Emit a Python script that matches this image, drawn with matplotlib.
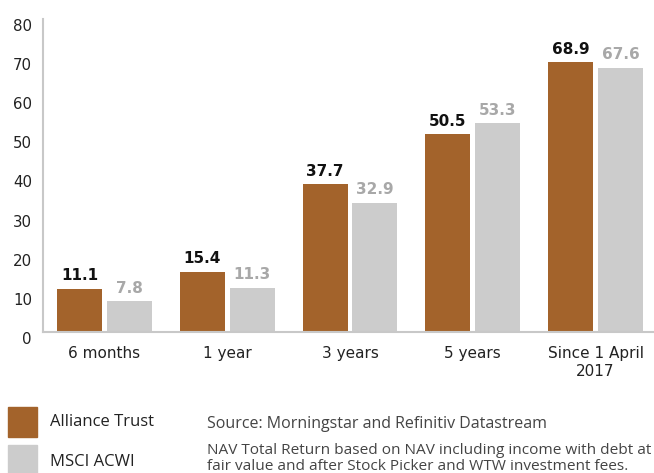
import matplotlib
matplotlib.use("Agg")
import matplotlib.pyplot as plt
import matplotlib.transforms as mtransforms
import numpy as np

categories = ["6 months", "1 year", "3 years", "5 years", "Since 1 April\n2017"]
alliance = [11.1, 15.4, 37.7, 50.5, 68.9]
msci = [7.8, 11.3, 32.9, 53.3, 67.6]
yticks = [0, 10, 20, 30, 40, 50, 60, 70, 80]
series_names = ["Alliance Trust", "MSCI ACWI"]

brown = "#A3632B"
grey = "#CCCCCC"

plt.rcParams['font.family'] = ['DejaVu Sans']

fig = plt.figure(figsize=(6.54, 4.73), dpi=100)
ax = fig.add_axes([43/654, 1-332/473, 614/654, 313/473])

x = np.arange(len(categories))
w = 0.366
gap = 0.04
ax.bar(x - (w+gap)/2, alliance, w, color=brown)
ax.bar(x + (w+gap)/2, msci, w, color=grey)

for xi, v in zip(x - (w+gap)/2, alliance):
    ax.text(xi, v + 1.5, f"{v}", ha="center", va="bottom", fontsize=11, fontweight="bold", color="#111111")
for xi, v in zip(x + (w+gap)/2, msci):
    ax.text(xi, v + 1.5, f"{v}", ha="center", va="bottom", fontsize=11, fontweight="bold", color="#A8A8A8")

ax.set_xlim(-0.5, len(categories) - 0.5)
ax.set_ylim(0, 80)
ax.set_yticks(yticks)
ax.set_xticks(x)
ax.set_xticklabels(categories, fontsize=11, color="#222222", linespacing=1.3)
ax.tick_params(axis="y", length=0, labelsize=10.8, labelcolor="#222222", pad=8)
ax.tick_params(axis="x", length=0, pad=10)
offset = mtransforms.ScaledTranslation(0, -6/100, fig.dpi_scale_trans)
for lab in ax.get_yticklabels():
    lab.set_transform(lab.get_transform() + offset)
for s in ["top", "right"]:
    ax.spines[s].set_visible(False)
for s in ["left", "bottom"]:
    ax.spines[s].set_color("#C8C8C8")
    ax.spines[s].set_linewidth(1.5)

# legend swatches
fig.patches.append(plt.Rectangle((8/654, 1-437/473), 29/654, 30/473, transform=fig.transFigure, color=brown))
fig.patches.append(plt.Rectangle((8/654, 1-475/473), 29/654, 30/473, transform=fig.transFigure, color=grey))
fig.text(50/654, 1-422/473, series_names[0], fontsize=12, color="#222222", va="center", family="Open Sans")
fig.text(50/654, 1-462/473, series_names[1], fontsize=12, color="#222222", va="center", family="Open Sans")

fig.text(207/654, 1-424/473, "Source: Morningstar and Refinitiv Datastream", fontsize=11.5, color="#444444", va="center", family="Open Sans")
fig.text(207/654, 1-450/473, "NAV Total Return based on NAV including income with debt at", fontsize=11.1, color="#444444", va="center", family="Open Sans")
fig.text(207/654, 1-466/473, "fair value and after Stock Picker and WTW investment fees.", fontsize=11.1, color="#444444", va="center", family="Open Sans")

fig.savefig("out.png", dpi=100)
